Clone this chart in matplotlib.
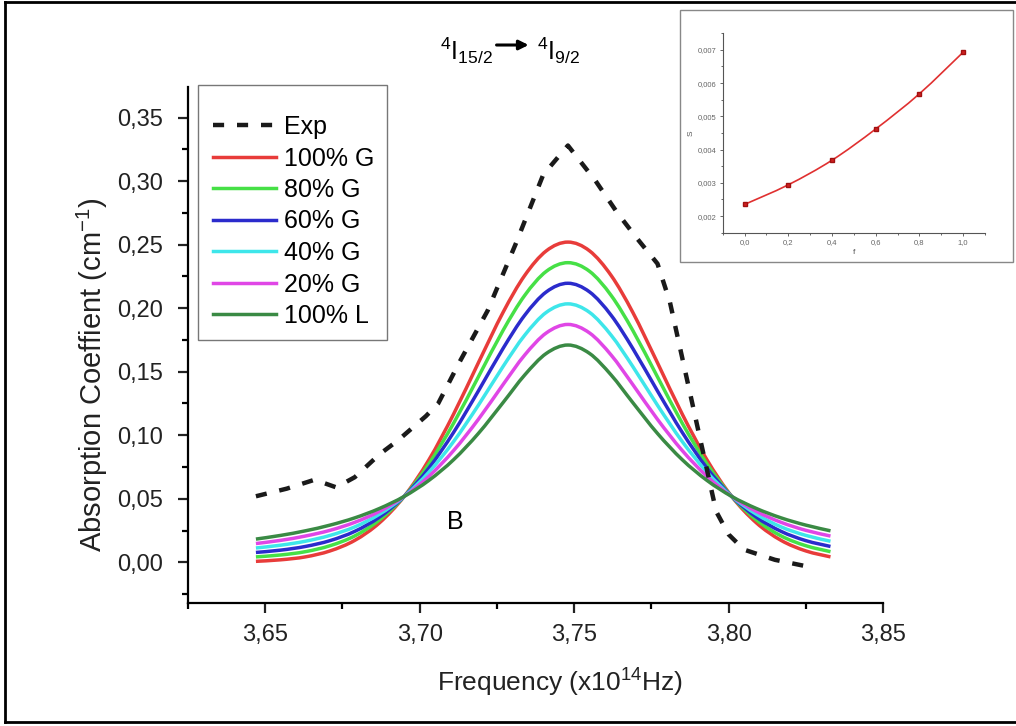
"""
Absorption band 4I15/2 -> 4I9/2: experimental profile vs pseudo-Voigt fits
(Gaussian fraction 100% .. 0%), with the S(f) inset.
"""

import matplotlib

matplotlib.use("Agg")
import matplotlib.pyplot as plt
from matplotlib.lines import Line2D
from matplotlib.patches import FancyArrowPatch, PathPatch, Rectangle
from matplotlib.path import Path
from matplotlib.ticker import FuncFormatter, MultipleLocator

plt.rcParams["font.family"] = ["Liberation Sans", "DejaVu Sans"]
plt.rcParams["mathtext.default"] = "regular"

# ---------------------------------------------------------------------------
# Data
# ---------------------------------------------------------------------------

freq = [3.647, 3.655, 3.663, 3.671, 3.679, 3.687, 3.695, 3.703, 3.711,
        3.719, 3.727, 3.734, 3.741, 3.748, 3.755, 3.762, 3.769, 3.777,
        3.785, 3.793, 3.801, 3.809, 3.817, 3.825, 3.833]

g100 = [0.0008, 0.0020, 0.0043, 0.0090, 0.0173, 0.0311, 0.0519, 0.0807, 0.1167,
        0.1570, 0.1967, 0.2257, 0.2451, 0.2520, 0.2451, 0.2257, 0.1967, 0.1570,
        0.1167, 0.0807, 0.0519, 0.0311, 0.0173, 0.0090, 0.0043]
g80 = [0.0043, 0.0058, 0.0084, 0.0131, 0.0208, 0.0334, 0.0519, 0.0775, 0.1095,
       0.1459, 0.1825, 0.2100, 0.2290, 0.2358, 0.2290, 0.2100, 0.1825, 0.1459,
       0.1095, 0.0775, 0.0519, 0.0334, 0.0208, 0.0131, 0.0084]
g60 = [0.0078, 0.0096, 0.0125, 0.0171, 0.0244, 0.0356, 0.0519, 0.0742, 0.1023,
       0.1348, 0.1683, 0.1944, 0.2128, 0.2196, 0.2128, 0.1944, 0.1683, 0.1348,
       0.1023, 0.0742, 0.0519, 0.0356, 0.0244, 0.0171, 0.0125]
g40 = [0.0113, 0.0135, 0.0166, 0.0212, 0.0279, 0.0379, 0.0519, 0.0710, 0.0951,
       0.1236, 0.1541, 0.1787, 0.1967, 0.2034, 0.1967, 0.1787, 0.1541, 0.1236,
       0.0951, 0.0710, 0.0519, 0.0379, 0.0279, 0.0212, 0.0166]
g20 = [0.0148, 0.0173, 0.0207, 0.0252, 0.0315, 0.0401, 0.0519, 0.0677, 0.0880,
       0.1125, 0.1399, 0.1631, 0.1805, 0.1872, 0.1805, 0.1631, 0.1399, 0.1125,
       0.0880, 0.0677, 0.0519, 0.0401, 0.0315, 0.0252, 0.0207]
l100 = [0.0183, 0.0212, 0.0248, 0.0293, 0.0350, 0.0424, 0.0519, 0.0645, 0.0808,
        0.1014, 0.1257, 0.1474, 0.1644, 0.1710, 0.1644, 0.1474, 0.1257, 0.1014,
        0.0808, 0.0645, 0.0519, 0.0424, 0.0350, 0.0293, 0.0248]

exp_x = [3.647, 3.657, 3.666, 3.673, 3.679, 3.687, 3.693, 3.702, 3.706, 3.713,
         3.722, 3.731, 3.740, 3.748, 3.757, 3.764, 3.770, 3.777, 3.781, 3.786,
         3.791, 3.796, 3.800, 3.805, 3.815, 3.825]
exp_y = [0.052, 0.058, 0.065, 0.059, 0.067, 0.085, 0.096, 0.115, 0.125, 0.158,
         0.198, 0.250, 0.305, 0.328, 0.300, 0.275, 0.256, 0.235, 0.205, 0.150,
         0.095, 0.040, 0.022, 0.010, 0.002, -0.003]

labels = ["100% G", "80% G", "60% G", "40% G", "20% G", "100% L"]
colors = ["#e83c3a", "#46e046", "#2b2bcc", "#3ee6ea", "#e046e6", "#3a8a44"]

# inset: S vs Gaussian fraction f
inset_f = [0.0, 0.2, 0.4, 0.6, 0.8, 1.0]
inset_s = [0.00235, 0.00294, 0.00368, 0.00462, 0.00568, 0.00693]


def comma_fmt(ndig):
    return FuncFormatter(lambda v, _pos: f"{v:.{ndig}f}".replace(".", ","))


def spline_path(xs, ys):
    """Catmull-Rom through the points, as cubic Bezier segments (Origin-style spline connect)."""
    pts = list(zip(xs, ys))
    verts = [pts[0]]
    codes = [Path.MOVETO]
    n = len(pts)
    for i in range(n - 1):
        p0 = pts[max(i - 1, 0)]
        p1 = pts[i]
        p2 = pts[i + 1]
        p3 = pts[min(i + 2, n - 1)]
        c1 = (p1[0] + (p2[0] - p0[0]) / 6, p1[1] + (p2[1] - p0[1]) / 6)
        c2 = (p2[0] - (p3[0] - p1[0]) / 6, p2[1] - (p3[1] - p1[1]) / 6)
        verts += [c1, c2, p2]
        codes += [Path.CURVE4] * 3
    return Path(verts, codes)


fig = plt.figure(figsize=(10.16, 7.26), dpi=100)

# ---------------------------------------------------------------------------
# Main panel
# ---------------------------------------------------------------------------
ax = fig.add_axes([0.185, 0.1694, 0.6841, 0.7107])
exp_style = dict(color="#1a1a1a", lw=3.2, ls=(0, (2.5, 2.9)))
ax.plot(exp_x, exp_y, zorder=3, **exp_style)
handles = [Line2D([], [], **exp_style)]
for ys, col in zip([g100, g80, g60, g40, g20, l100], colors):
    ax.add_patch(PathPatch(spline_path(freq, ys), facecolor="none",
                           edgecolor=col, lw=2.5, capstyle="butt"))
    handles.append(Line2D([], [], color=col, lw=2.5))

ax.set_xlim(3.625, 3.85)
ax.set_ylim(-0.032, 0.374)
ax.xaxis.set_major_locator(MultipleLocator(0.05))
ax.xaxis.set_minor_locator(MultipleLocator(0.025))
ax.yaxis.set_major_locator(MultipleLocator(0.05))
ax.yaxis.set_minor_locator(MultipleLocator(0.025))
ax.xaxis.set_major_formatter(comma_fmt(2))
ax.yaxis.set_major_formatter(comma_fmt(2))
for side in ("top", "right"):
    ax.spines[side].set_visible(False)
for side in ("left", "bottom"):
    ax.spines[side].set_linewidth(1.6)
ax.tick_params(which="major", direction="out", length=7, width=1.6,
               labelsize=17, colors="#222222")
ax.tick_params(axis="y", which="major", pad=11)
ax.tick_params(axis="x", which="major", pad=8)
ax.tick_params(which="minor", direction="out", length=4, width=1.6)

ax.set_xlabel("Frequency (x10$^{14}$Hz)", fontsize=19, color="#222222")
ax.set_ylabel("Absorption Coeffient (cm$^{-1}$)", fontsize=21, color="#222222")
ax.xaxis.set_label_coords(0.535, -0.124)
ax.yaxis.set_label_coords(-0.112, 0.442)

ax.text(3.7114, 0.032, "B", fontsize=18, ha="center", va="center")

# legend: frame drawn separately to keep the empty band above "Exp"
fig.add_artist(Rectangle((198 / 1016, 1 - 340 / 726), 189 / 1016, 255 / 726,
                         transform=fig.transFigure, facecolor="white",
                         edgecolor="#777777", lw=1.0, zorder=2))
leg = fig.legend(handles, ["Exp"] + labels, loc="upper left",
                 bbox_to_anchor=(213 / 1016, 1 - 115 / 726),
                 bbox_transform=fig.transFigure, fontsize=18, frameon=False,
                 handlelength=2.5, handletextpad=0.32, labelspacing=0.3,
                 borderpad=0.0, borderaxespad=0.0)
leg.set_zorder(3)

# transition label above the band
fig.text(0.485, 0.917, "$^4$I$_{15/2}$", fontsize=18, ha="right", va="baseline")
fig.text(0.529, 0.917, "$^4$I$_{9/2}$", fontsize=18, ha="left", va="baseline")
fig.add_artist(FancyArrowPatch((0.486, 0.938), (0.523, 0.938),
                               transform=fig.transFigure, arrowstyle="-|>",
                               mutation_scale=14, lw=2.2, color="black"))

# ---------------------------------------------------------------------------
# Inset
# ---------------------------------------------------------------------------
fig.add_artist(Rectangle((0.669, 0.639), 0.328, 0.347, transform=fig.transFigure,
                         facecolor="white", edgecolor="#888888", lw=1.0,
                         zorder=5))
ins = fig.add_axes([0.7113, 0.6795, 0.2582, 0.2747], zorder=6)
ins.patch.set_alpha(0)
ins.add_patch(PathPatch(spline_path(inset_f, inset_s), facecolor="none",
                        edgecolor="#e03030", lw=1.2))
ins.plot(inset_f, inset_s, ls="none", marker="s", ms=3,
         mfc="#d02020", mec="#a01010")
ins.set_xlim(-0.1, 1.1)
ins.set_ylim(0.0015, 0.0075)
ins.xaxis.set_major_locator(MultipleLocator(0.2))
ins.xaxis.set_minor_locator(MultipleLocator(0.1))
ins.yaxis.set_major_locator(MultipleLocator(0.001))
ins.yaxis.set_minor_locator(MultipleLocator(0.0005))
ins.xaxis.set_major_formatter(comma_fmt(1))
ins.yaxis.set_major_formatter(comma_fmt(3))
for side in ("top", "right"):
    ins.spines[side].set_visible(False)
for side in ("left", "bottom"):
    ins.spines[side].set_linewidth(0.8)
    ins.spines[side].set_color("#555555")
ins.tick_params(which="major", direction="out", length=2.5, width=0.7,
                labelsize=5.5, colors="#666666", pad=2)
ins.tick_params(which="minor", direction="out", length=1.5, width=0.7,
                colors="#666666")
ins.set_xlabel("f", fontsize=6, color="#555555", labelpad=2)
ins.set_ylabel("S", fontsize=6, color="#555555", labelpad=2)

# outer frame of the picture (no right edge)
for xs, ys in [((0.005, 1.0), (0.997, 0.997)),
               ((0.005, 0.005), (0.006, 0.997)),
               ((0.005, 1.0), (0.006, 0.006))]:
    fig.add_artist(Line2D(xs, ys, transform=fig.transFigure, color="black",
                          lw=2.0))

fig.savefig("out.png", dpi=100)
